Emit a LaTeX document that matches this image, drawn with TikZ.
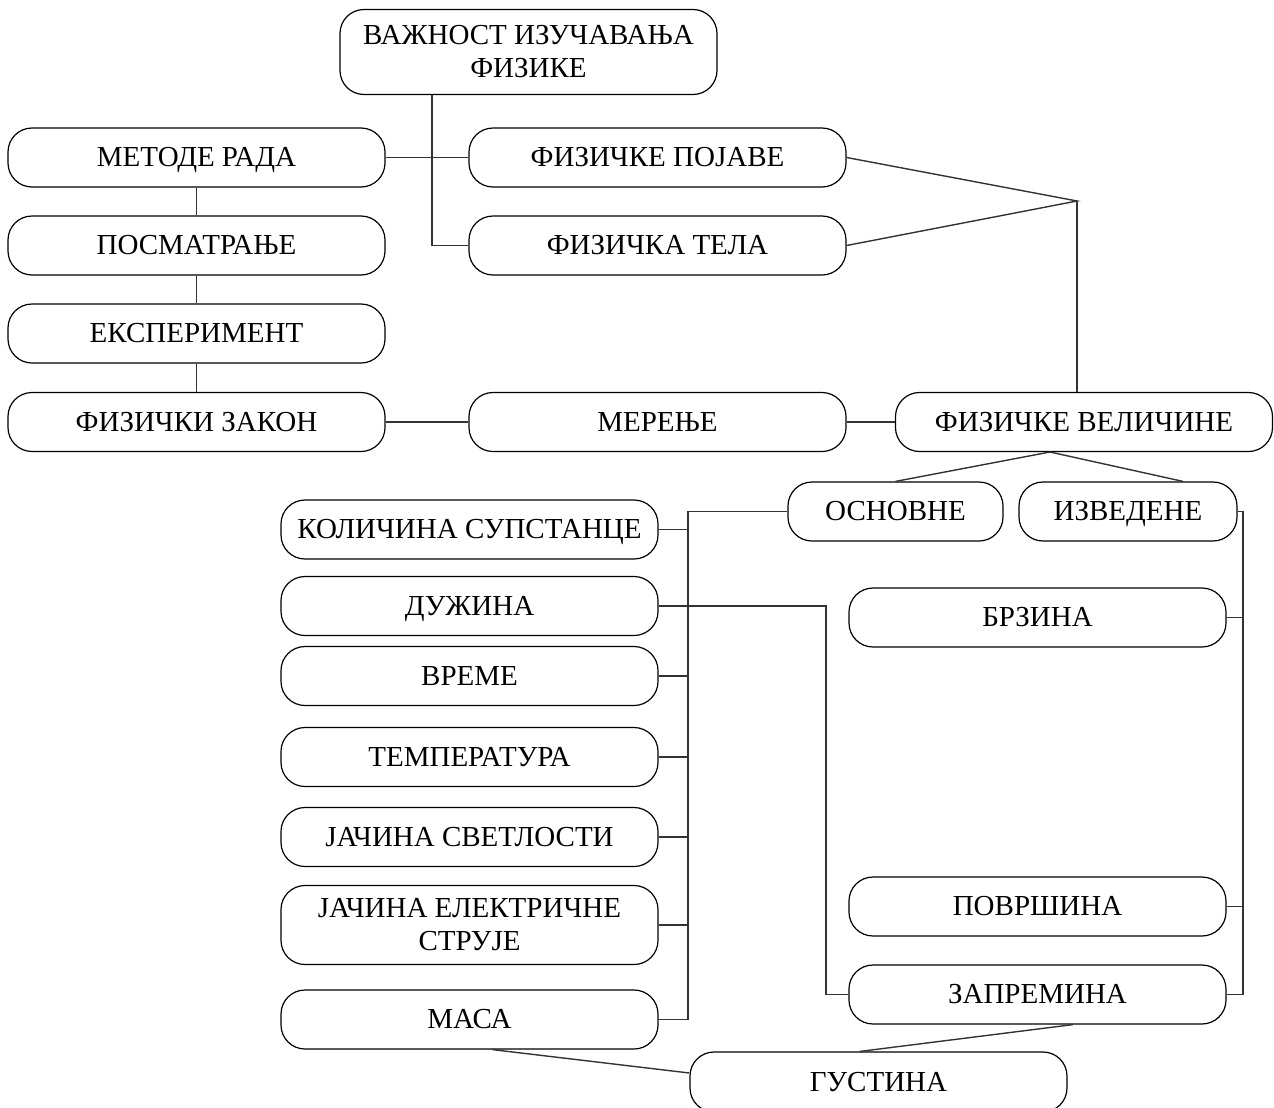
\documentclass[tikz,border=0pt]{standalone}
\usepackage{fontspec}
\setmainfont{Liberation Serif}
\usetikzlibrary{calc}
\begin{document}
\begin{tikzpicture}[x=0.5pt,y=-0.5pt,
  bx/.style={draw, line width=0.6pt, rounded corners=12pt, minimum width=188.5pt, minimum height=29.5pt, inner sep=0pt, align=center, font=\fontsize{14.5pt}{16.5pt}\selectfont},
  one/.style={text height=9.2pt, text depth=0pt},
  ln/.style={line width=0.7pt, draw=black!80}]
\useasboundingbox (0,0) rectangle (1274,1108);
% top
\node[bx, minimum height=42.5pt] (top) at (528.5,52) {ВАЖНОСТ ИЗУЧАВАЊА\\ФИЗИКЕ};
\node[bx, one] (metode) at (196.5,157.5) {МЕТОДЕ РАДА};
\node[bx, one] (posm) at (196.5,245.5) {ПОСМАТРАЊЕ};
\node[bx, one] (eksp) at (196.5,333.5) {ЕКСПЕРИМЕНТ};
\node[bx, one] (zakon) at (196.5,422) {ФИЗИЧКИ ЗАКОН};
\node[bx, one] (pojave) at (657.5,157.5) {ФИЗИЧКЕ ПОЈАВЕ};
\node[bx, one] (tela) at (657.5,245.5) {ФИЗИЧКА ТЕЛА};
\node[bx, one] (merenje) at (657.5,422) {МЕРЕЊЕ};
\node[bx, one] (velicine) at (1084,422) {ФИЗИЧКЕ ВЕЛИЧИНЕ};
\node[bx, one, minimum width=107.5pt] (osnovne) at (895.5,511.5) {ОСНОВНЕ};
\node[bx, one, minimum width=109pt] (izvedene) at (1128,511.5) {ИЗВЕДЕНЕ};
\node[bx, one] (kolicina) at (469.5,529.5) {КОЛИЧИНА СУПСТАНЦЕ};
\node[bx, one] (duzina) at (469.5,606) {ДУЖИНА};
\node[bx, one] (vreme) at (469.5,676) {ВРЕМЕ};
\node[bx, one] (temp) at (469.5,757) {ТЕМПЕРАТУРА};
\node[bx, one] (svetl) at (469.5,837) {ЈАЧИНА СВЕТЛОСТИ};
\node[bx, minimum height=39.5pt] (struje) at (469.5,925) {ЈАЧИНА ЕЛЕКТРИЧНЕ\\СТРУЈЕ};
\node[bx, one] (masa) at (469.5,1019.5) {МАСА};
\node[bx, one] (brzina) at (1037.5,617.5) {БРЗИНА};
\node[bx, one] (povrsina) at (1037.5,906.5) {ПОВРШИНА};
\node[bx, one] (zapremina) at (1037.5,994.5) {ЗАПРЕМИНА};
\node[bx, one, minimum height=30pt] (gustina) at (878.5,1082) {ГУСТИНА};
% coordinates
\coordinate (vx) at (432,0);
\coordinate (apex1) at (1077,201);
\coordinate (apex2) at (1050,452);
\coordinate (lx) at (688,0);
\coordinate (dx) at (826,0);
\coordinate (rx) at (1243,0);
% connectors
\draw[ln] (top.south -| vx) |- (tela.west);
\draw[ln] (metode.east) -- (pojave.west);
\draw[ln] (metode.south) -- (posm.north);
\draw[ln] (posm.south) -- (eksp.north);
\draw[ln] (eksp.south) -- (zakon.north);
\draw[ln] (pojave.east) -- (apex1) -- (tela.east);
\draw[ln] (apex1) -- (apex1 |- velicine.north);
\draw[ln] (zakon.east) -- (merenje.west);
\draw[ln] (merenje.east) -- (velicine.west);
\draw[ln] (osnovne.north) -- (apex2) -- ($(izvedene.north)+(55,0)$);
\draw[ln] (osnovne.west) -- (osnovne.west -| lx) -- (lx |- masa.east) -- (masa.east);
\foreach \n in {kolicina,vreme,temp,svetl,struje}
  \draw[ln] (\n.east) -- (\n.east -| lx);
\draw[ln] (duzina.east) -- (duzina.east -| dx) -- (dx |- zapremina.west) -- (zapremina.west);
\draw[ln] (izvedene.east) -- (izvedene.east -| rx) -- (rx |- zapremina.east) -- (zapremina.east);
\draw[ln] (brzina.east) -- (brzina.east -| rx);
\draw[ln] (povrsina.east) -- (povrsina.east -| rx);
\draw[ln] ($(masa.south)+(23,0)$) -- ($(gustina.west)+(0,-9)$);
\draw[ln] ($(zapremina.south)+(35.5,0)$) -- ($(gustina.north)+(-18.5,0)$);
\end{tikzpicture}
\end{document}
